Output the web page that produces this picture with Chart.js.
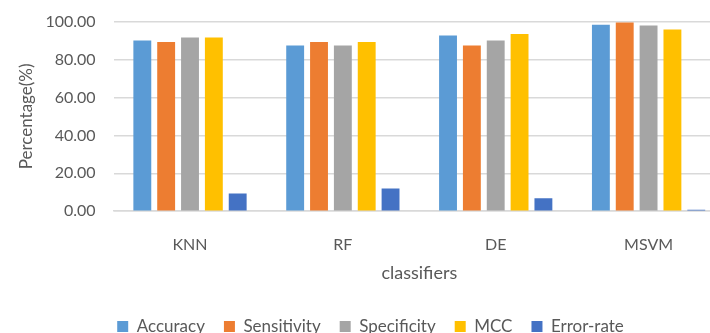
<!DOCTYPE html>
<html>
<head>
<meta charset="utf-8">
<script src="https://cdn.jsdelivr.net/npm/chart.js@4"></script>
<style>
  html, body { margin: 0; padding: 0; background: #fff; overflow: hidden; }
  #wrap { width: 725px; height: 351px; margin-top: -6px; }
</style>
</head>
<body>
<div id="wrap"><canvas id="grafico"></canvas></div>
<script>
const classifiers = ['KNN', 'RF', 'DE', 'MSVM'];
const accuracy    = [90.0, 87.4, 92.7, 98.4];
const sensitivity = [89.2, 89.2, 87.4, 99.5];
const specificity = [91.6, 87.4, 90.0, 97.9];
const mcc         = [91.6, 89.2, 93.5, 95.8];
const errorRate   = [9.4, 12.0, 6.8, 0.8];

const fonte = 'Lato, "Open Sans", sans-serif';
const cinza = '#595959';

function serie(label, data, cor) {
  return {
    label: label,
    data: data,
    backgroundColor: cor,
    borderWidth: 0,
    barPercentage: 0.75,
    categoryPercentage: 0.78
  };
}

new Chart(document.getElementById('grafico'), {
  type: 'bar',
  data: {
    labels: classifiers,
    datasets: [
      serie('Accuracy', accuracy, '#5B9BD5'),
      serie('Sensitivity', sensitivity, '#ED7D31'),
      serie('Specificity', specificity, '#A5A5A5'),
      serie('MCC', mcc, '#FFC000'),
      serie('Error-rate', errorRate, '#4472C4')
    ]
  },
  options: {
    responsive: true,
    maintainAspectRatio: false,
    animation: false,
    layout: { padding: { top: 1, left: 16, right: 0, bottom: 0 } },
    plugins: {
      tooltip: { enabled: false },
      legend: {
        position: 'bottom',
        labels: {
          font: { family: fonte, size: 17 },
          color: cinza,
          boxWidth: 11,
          boxHeight: 11,
          padding: 19
        }
      }
    },
    scales: {
      x: {
        grid: { display: false, drawTicks: false },
        border: { color: '#D9D9D9', width: 1.5 },
        ticks: { color: cinza, font: { family: fonte, size: 16 }, padding: 24 },
        title: {
          display: true,
          text: 'classifiers',
          color: cinza,
          font: { family: fonte, size: 18 },
          padding: { top: -16, bottom: 15 }
        }
      },
      y: {
        min: 0,
        max: 100,
        ticks: {
          stepSize: 20,
          color: cinza,
          font: { family: fonte, size: 16 },
          padding: 18,
          callback: v => v.toFixed(2)
        },
        grid: { color: '#D9D9D9', lineWidth: 1.5, drawTicks: false },
        border: { display: false },
        title: {
          display: true,
          text: 'Percentage(%)',
          color: cinza,
          font: { family: fonte, size: 17 },
          padding: { top: 0, bottom: -9 }
        }
      }
    }
  }
});
</script>
</body>
</html>
